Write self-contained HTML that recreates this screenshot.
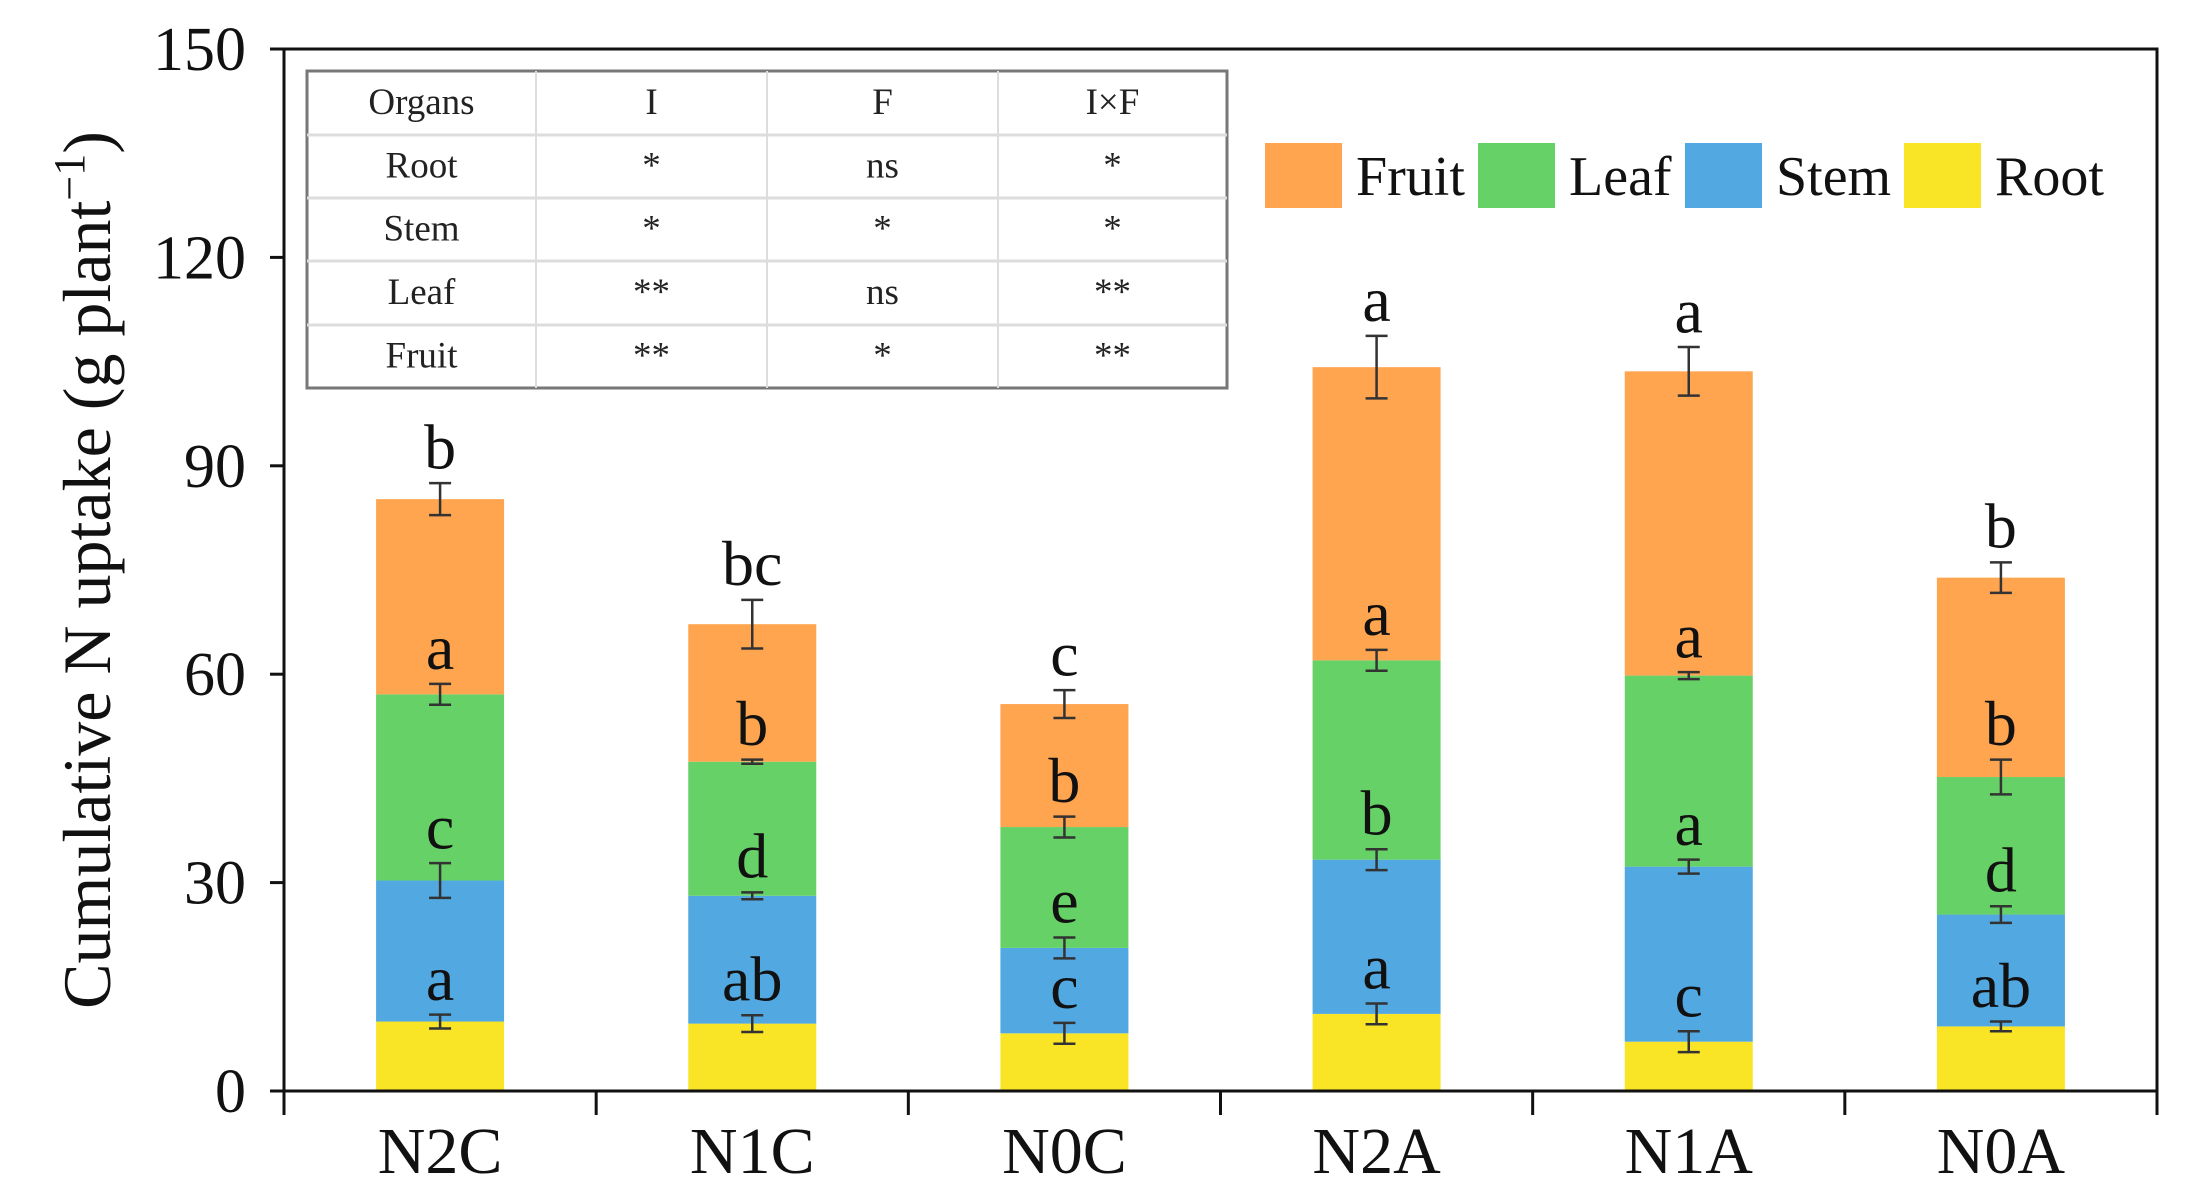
<!DOCTYPE html>
<html><head><meta charset="utf-8"><style>
html,body{margin:0;padding:0;background:#fff;}
svg{display:block;font-family:"Liberation Serif",serif;}
</style></head><body>
<svg id="chart" width="2200" height="1203" viewBox="0 0 2200 1203" xmlns="http://www.w3.org/2000/svg">
<g id="table"></g>
<g id="bars"></g>
<g id="axes"></g>
<g id="legend"></g>
<text transform="translate(110,570) rotate(-90)" text-anchor="middle" font-size="68" fill="#111">Cumulative N uptake (g plant<tspan dy="-26" font-size="44">−1</tspan><tspan dy="26">)</tspan></text>
</svg>
<script>
const categories = ["N2C","N1C","N0C","N2A","N1A","N0A"];
const rootVals = [10.0, 9.7, 8.3, 11.1, 7.1, 9.3];
const stemVals = [20.3, 18.4, 12.3, 22.2, 25.2, 16.1];
const leafVals = [26.8, 19.3, 17.4, 28.7, 27.5, 19.8];
const fruitVals = [28.1, 19.8, 17.7, 42.2, 43.8, 28.7];
const rootErr = [1.0, 1.2, 1.5, 1.5, 1.5, 0.7];
const stemErr = [2.5, 0.5, 1.5, 1.5, 1.0, 1.2];
const leafErr = [1.5, 0.3, 1.5, 1.5, 0.5, 2.5];
const fruitErr = [2.3, 3.5, 2.0, 4.5, 3.5, 2.2];
const stemLetters = ["a","ab","c","a","c","ab"];
const leafLetters = ["c","d","e","b","a","d"];
const fruitLetters = ["a","b","b","a","a","b"];
const totalLetters = ["b","bc","c","a","a","b"];
const yTicks = [0,30,60,90,120,150];

const NS="http://www.w3.org/2000/svg";
function mk(tag, attrs, parent){const e=document.createElementNS(NS,tag);for(const k in attrs)e.setAttribute(k,attrs[k]);parent.appendChild(e);return e;}
const X0=284, X1=2157, Y0=1091, Y150=49;
const y = v => Y0 - (v/150)*(Y0-Y150);
const band=(X1-X0)/categories.length;
const xc = i => X0 + band*(i+0.5);
const BW=128;
const colors={root:"#F9E526",stem:"#52A8E0",leaf:"#66D166",fruit:"#FFA54F"};
const bars=document.getElementById('bars');
const series=[["root",rootVals,rootErr],["stem",stemVals,stemErr],["leaf",leafVals,leafErr],["fruit",fruitVals,fruitErr]];
const segLetters={stem:stemLetters,leaf:leafLetters,fruit:fruitLetters};

categories.forEach((c,i)=>{
  let base=0;
  const tops=[];
  series.forEach(([name,vals,errs])=>{
    const top=base+vals[i];
    const r=mk('rect',{x:xc(i)-BW/2,y:y(top),width:BW,height:y(base)-y(top),fill:colors[name]},bars);
    
    
    tops.push([name,top,errs[i],base]);
    base=top;
  });
  tops.forEach(([name,top,err,segBase],k)=>{
    const g=mk('g',{stroke:"#333","stroke-width":2.5},bars);
    
    
    mk('line',{x1:xc(i),x2:xc(i),y1:y(top-err),y2:y(top+err)},g);
    mk('line',{x1:xc(i)-11,x2:xc(i)+11,y1:y(top-err),y2:y(top-err)},g);
    mk('line',{x1:xc(i)-11,x2:xc(i)+11,y1:y(top+err),y2:y(top+err)},g);
    if(k>0){
      const prev=tops[k-1];
      const t=mk('text',{x:xc(i),y:y(prev[1]+prev[2]+5)+20,"text-anchor":"middle","font-size":64,fill:"#111"},bars);
      t.textContent=segLetters[name][i];
      
      
    }
  });
  const last=tops[tops.length-1];
  const t=mk('text',{x:xc(i),y:y(last[1]+last[2]+5)+20,"text-anchor":"middle","font-size":64,fill:"#111"},bars);
  t.textContent=totalLetters[i];
  
  
});

const ax=document.getElementById('axes');
mk('rect',{x:X0,y:Y150,width:X1-X0,height:Y0-Y150,fill:"none",stroke:"#111","stroke-width":3},ax);
yTicks.forEach(v=>{
  mk('line',{x1:X0-14,x2:X0,y1:y(v),y2:y(v),stroke:"#111","stroke-width":3},ax);
  const t=mk('text',{x:246,y:y(v)+21,"text-anchor":"end","font-size":62,fill:"#111"},ax);
  t.textContent=v;
  
  
});
for(let i=0;i<=categories.length;i++){
  mk('line',{x1:X0+band*i,x2:X0+band*i,y1:Y0,y2:Y0+24,stroke:"#111","stroke-width":3},ax);
}
categories.forEach((c,i)=>{
  const t=mk('text',{x:xc(i),y:1173,"text-anchor":"middle","font-size":66,fill:"#111"},ax);
  t.textContent=c;
  
  
});

const lg=document.getElementById('legend');
const legendItems=[["Fruit",colors.fruit,1265],["Leaf",colors.leaf,1478],["Stem",colors.stem,1685],["Root",colors.root,1904]];
legendItems.forEach(([lab,col,x])=>{
  const g=mk('g',{},lg);
  
  
  mk('rect',{x:x,y:143,width:77,height:65,fill:col},g);
  const t=mk('text',{x:x+91,y:195,"font-size":56,fill:"#111"},g);
  t.textContent=lab;
});

const tb=document.getElementById('table');
const colsX=[307,536,767,998,1227];
const rowsY=[71,135,198,261,325,388];
const tableRows=[["Organs","I","F","I×F"],["Root","*","ns","*"],["Stem","*","*","*"],["Leaf","**","ns","**"],["Fruit","**","*","**"]];
mk('rect',{x:307,y:71,width:920,height:317,fill:"#fff",stroke:"#777","stroke-width":3},tb);
for(let r=1;r<5;r++) mk('line',{x1:307,x2:1227,y1:rowsY[r],y2:rowsY[r],stroke:"#ddd","stroke-width":3},tb);
for(let c=1;c<4;c++) mk('line',{x1:colsX[c],x2:colsX[c],y1:71,y2:388,stroke:"#ddd","stroke-width":2},tb);
tableRows.forEach((row,r)=>row.forEach((txt,c)=>{
  const t=mk('text',{x:(colsX[c]+colsX[c+1])/2,y:(rowsY[r]+rowsY[r+1])/2+11,"text-anchor":"middle","font-size":37,fill:"#222"},tb);
  t.textContent=txt;
  
  
}));
</script>
</body></html>
